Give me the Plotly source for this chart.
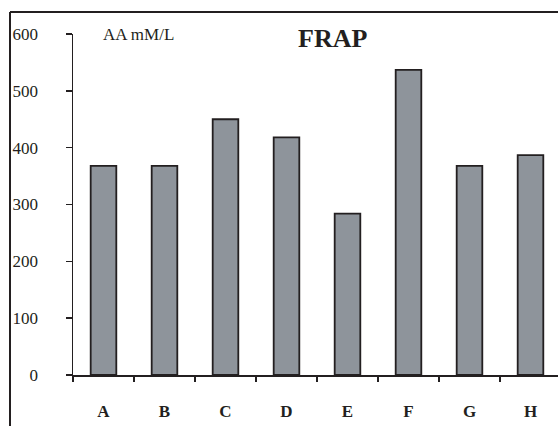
import plotly.graph_objects as go

categories = ["A", "B", "C", "D", "E", "F", "G", "H"]
values = [368, 368, 450, 418, 284, 537, 368, 387]
y_ticks = [0, 100, 200, 300, 400, 500, 600]

W, H = 558, 426
L, R, T, B = 73, 0, 34, 51
pw = W - L - R
ph = H - T - B
cat_px = 61.0

def px_x(px):
    return (px - L) / pw

def px_y(py):
    return (H - B - py) / ph

dark = "#231F20"
serif = "Liberation Serif, Times New Roman, serif"

fig = go.Figure(go.Bar(
    x=categories,
    y=values,
    width=0.42,
    marker=dict(color="#8E949B", line=dict(color=dark, width=1.8)),
))

fig.update_layout(
    width=W, height=H,
    margin=dict(l=L, r=R, t=T, b=B, pad=0),
    paper_bgcolor="white", plot_bgcolor="white",
    showlegend=False,
    font=dict(family=serif, color=dark),
    xaxis=dict(
        type="category",
        range=[-0.5, -0.5 + pw / cat_px],
        tickson="boundaries",
        ticks="outside", ticklen=5, tickwidth=1.5, tickcolor=dark,
        ticklabelstandoff=20,
        showline=True, linecolor=dark, linewidth=1.5,
        showgrid=False, zeroline=False,
        tickfont=dict(family=serif, size=17, color=dark, weight="bold"),
        fixedrange=True,
    ),
    yaxis=dict(
        range=[0, 600],
        tickmode="array",
        tickvals=y_ticks,
        ticktext=[str(v) for v in y_ticks],
        ticks="outside", ticklen=6, tickwidth=1.5, tickcolor=dark,
        ticklabelstandoff=24,
        showline=True, linecolor=dark, linewidth=1.5,
        showgrid=False, zeroline=False,
        tickfont=dict(family=serif, size=17, color=dark),
        fixedrange=True,
    ),
    shapes=[
        dict(type="line", xref="paper", yref="paper",
             x0=px_x(10), x1=px_x(10), y0=px_y(12), y1=px_y(H + 2),
             line=dict(color=dark, width=2)),
        dict(type="line", xref="paper", yref="paper",
             x0=px_x(10), x1=px_x(W + 2), y0=px_y(12), y1=px_y(12),
             line=dict(color=dark, width=2)),
    ],
    annotations=[
        dict(text="AA mM/L", xref="paper", yref="paper",
             x=px_x(101), y=px_y(34), xanchor="left", yanchor="middle",
             showarrow=False, font=dict(family=serif, size=17, color=dark)),
        dict(text="<b>FRAP</b>", xref="paper", yref="paper",
             x=px_x(332), y=px_y(39), xanchor="center", yanchor="middle",
             showarrow=False, font=dict(family=serif, size=26, color=dark)),
    ],
)

fig.write_html(
    "out.html",
    config={"displayModeBar": False, "staticPlot": True},
    post_script="document.body.style.margin='0';document.body.style.overflow='hidden';",
)
